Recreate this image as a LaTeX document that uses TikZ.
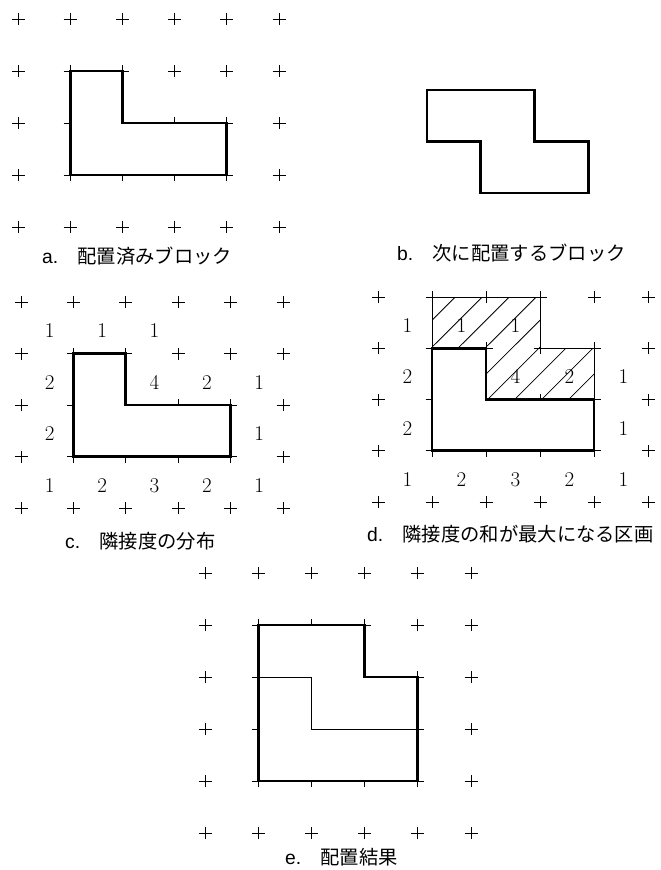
\documentclass[tikz,border=0pt]{standalone}
\usepackage{fontspec}
\newfontfamily\jpfont{Noto Sans CJK JP}
\newfontfamily\capfont{Liberation Sans}
\newcommand{\plusgrid}[2]{%
  \foreach \i in {0,...,#1}
    \foreach \j in {0,...,#2}
      \draw[cross] (\i,\j) +(-6.5pt,0pt) -- +(6.5pt,0pt) +(0pt,-6pt) -- +(0pt,6pt);}

\begin{document}
\begin{tikzpicture}[x=1pt,y=-1pt,
  cross/.style={line width=1pt},
  blockline/.style={line width=2.8pt,line join=miter,fill=white},
  thinline/.style={line width=0.9pt},
  hatch/.style={line width=0.8pt},
  num/.style={font=\fontsize{21}{25}\selectfont,inner sep=0pt,xshift=2.5pt,yshift=-3pt},
  caption/.style={font=\fontsize{19.3}{23}\selectfont,anchor=base west,inner sep=0pt}]
  \fill[white] (0,0) rectangle (661,870);
  \useasboundingbox (0,0) rectangle (661,870);
  \begin{scope}[shift={(18pt,-19pt)},x=52.2pt,y=-52pt]
    \plusgrid{5}{4}
    \draw[blockline] (1,1) -- (2,1) -- (2,2) -- (4,2) -- (4,3) -- (1,3) -- cycle;
  \end{scope}
  \node[caption] (capa) at (42,263) {\capfont a.\quad\jpfont 配置済みブロック};
  \begin{scope}[shift={(427pt,-90pt)},x=53.7pt,y=-51.5pt]
    \draw[blockline] (0,0) -- (2,0) -- (2,1) -- (3,1) -- (3,2) -- (1,2) -- (1,1) -- (0,1) -- cycle;
  \end{scope}
  \node[caption] (capb) at (397,260) {\capfont b.\quad\jpfont 次に配置するブロック};
  \begin{scope}[shift={(21pt,-302pt)},x=52.4pt,y=-51.5pt]
    \plusgrid{5}{4}
    \draw[blockline] (1,1) -- (2,1) -- (2,2) -- (4,2) -- (4,3) -- (1,3) -- cycle;
    \foreach \i/\j/\v in {0/0/1,1/0/1,2/0/1,0/1/2,2/1/4,3/1/2,4/1/1,0/2/2,4/2/1,
        0/3/1,1/3/2,2/3/3,3/3/2,4/3/1}
      \node[num] (c\i\j) at (\i+.5,\j+.5) {\v};
  \end{scope}
  \node[caption] (capc) at (65,548) {\capfont c.\quad\jpfont 隣接度の分布};
  \begin{scope}[shift={(378pt,-297pt)},x=54pt,y=-51.25pt]
    \plusgrid{5}{4}
    \begin{scope}
      \clip (1,0) -- (3,0) -- (3,1) -- (4,1) -- (4,2) -- (2,2) -- (2,1) -- (1,1) -- cycle;
      \foreach \u in {-0.47,0.03,...,3.6}
        \draw[hatch] (\u,2) -- ++(1.9,-2);
    \end{scope}
    \draw[thinline] (1,0) -- (3,0) -- (3,1) -- (4,1) -- (4,2) -- (2,2) -- (2,1) -- (1,1) -- cycle;
    \draw[blockline] (1,1) -- (2,1) -- (2,2) -- (4,2) -- (4,3) -- (1,3) -- cycle;
    \foreach \i/\j/\v in {0/0/1,1/0/1,2/0/1,0/1/2,2/1/4,3/1/2,4/1/1,0/2/2,4/2/1,
        0/3/1,1/3/2,2/3/3,3/3/2,4/3/1}
      \node[num] (d\i\j) at (\i+.5,\j+.5) {\v};
  \end{scope}
  \node[caption] (capd) at (367,541) {\capfont d.\quad\jpfont 隣接度の和が最大になる区画};
  \begin{scope}[shift={(205pt,-573pt)},x=53.2pt,y=-52pt]
    \plusgrid{5}{5}
    \draw[blockline] (1,1) -- (3,1) -- (3,2) -- (4,2) -- (4,4) -- (1,4) -- cycle;
    \draw[thinline] (1,2) -- (2,2) -- (2,3) -- (4,3);
  \end{scope}
  \node[caption] (cape) at (285,864) {\capfont e.\quad\jpfont 配置結果};
\end{tikzpicture}
\end{document}
